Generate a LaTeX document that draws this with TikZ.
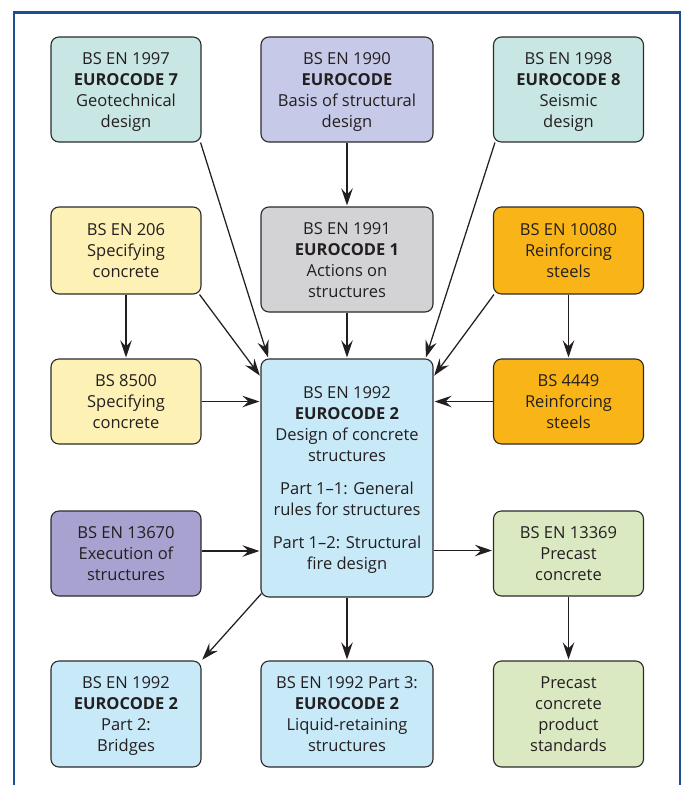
\documentclass[tikz,border=0pt]{standalone}
\usepackage{fontspec}
\setmainfont{Open Sans}
\usetikzlibrary{arrows.meta}
\definecolor{txt}{HTML}{231F20}
\definecolor{boxline}{HTML}{2B2B2B}
\definecolor{framec}{HTML}{1C4F91}
\definecolor{cteal}{HTML}{C8E6E3}
\definecolor{clav}{HTML}{C6C9E7}
\definecolor{cyel}{HTML}{FEF1B6}
\definecolor{cgray}{HTML}{D3D3D5}
\definecolor{corange}{HTML}{F9B517}
\definecolor{cblue}{HTML}{C7E9F8}
\definecolor{cpurp}{HTML}{A8A2D0}
\definecolor{cgreen}{HTML}{DBE9C2}
\newcommand\topstrut{\rule{0pt}{17pt}}
\newcommand\botstrut{\rule[-5pt]{0pt}{5pt}}
\begin{document}
\begin{tikzpicture}[x=1pt,y=-1pt,
  box/.style={draw=boxline, line width=1.1pt, rounded corners=8pt, inner sep=0pt,
    align=center, text=txt, font=\fontsize{16.5}{21}\selectfont},
  narrowbox/.style={box, minimum width=150pt},
  widebox/.style={box, minimum width=172pt},
  arr/.style={draw=txt, line width=1.25pt, -{Stealth[length=17pt,width=11.5pt,inset=6pt]}, shorten >=1pt},
  frameline/.style={draw=framec, line width=2.6pt}
]
\useasboundingbox (0,0) rectangle (686,785);
\fill[white] (0,0) rectangle (686,785);
\draw[frameline] (14,786) -- (14,12.5) -- (680,12.5) -- (680,786);

% row 1
\node[narrowbox, fill=cteal, minimum height=105pt] (ec7) at (126,89.5)
  {\topstrut BS EN 1997\\\textbf{EUROCODE 7}\\Geotechnical\\design\botstrut};
\node[widebox, fill=clav, minimum height=105pt] (ec0) at (347,89.5)
  {\topstrut BS EN 1990\\\textbf{EUROCODE}\\Basis of structural\\design\botstrut};
\node[narrowbox, fill=cteal, minimum height=105pt] (ec8) at (568.5,89.5)
  {\topstrut BS EN 1998\\\textbf{EUROCODE 8}\\Seismic\\design\botstrut};
% row 2
\node[narrowbox, fill=cyel, minimum height=87pt] (en206) at (126,250.5)
  {\topstrut BS EN 206\\Specifying\\concrete\botstrut};
\node[widebox, fill=cgray, minimum height=105pt] (ec1) at (347,259.5)
  {\topstrut BS EN 1991\\\textbf{EUROCODE 1}\\Actions on\\structures\botstrut};
\node[narrowbox, fill=corange, minimum height=87pt] (en10080) at (568.5,250.5)
  {\topstrut BS EN 10080\\Reinforcing\\steels\botstrut};
% row 3
\node[narrowbox, fill=cyel, minimum height=85pt] (bs8500) at (126,401.5)
  {\topstrut BS 8500\\Specifying\\concrete\botstrut};
\node[widebox, fill=cblue, minimum height=238pt] (ec2) at (347,478)
  {\topstrut BS EN 1992\\\textbf{EUROCODE 2}\\Design of concrete\\structures\\[12pt]
   Part 1–1: General\\rules for structures\\[12pt]Part 1–2: Structural\\fire design\botstrut};
\node[narrowbox, fill=corange, minimum height=85pt] (bs4449) at (568.5,401.5)
  {\topstrut BS 4449\\Reinforcing\\steels\botstrut};
% row 4
\node[narrowbox, fill=cpurp, minimum height=85pt] (en13670) at (126,553.5)
  {\topstrut BS EN 13670\\Execution of\\structures\botstrut};
\node[narrowbox, fill=cgreen, minimum height=85pt] (en13369) at (568.5,553.5)
  {\topstrut BS EN 13369\\Precast\\concrete\botstrut};
% row 5
\node[narrowbox, fill=cblue, minimum height=106pt] (p2) at (126,714)
  {\topstrut BS EN 1992\\\textbf{EUROCODE 2}\\Part 2:\\Bridges\botstrut};
\node[widebox, fill=cblue, minimum height=106pt] (p3) at (347,714)
  {\topstrut BS EN 1992 Part 3:\\\textbf{EUROCODE 2}\\Liquid-retaining\\structures\botstrut};
\node[narrowbox, fill=cgreen, minimum height=106pt] (pcs) at (568.5,714)
  {\topstrut Precast\\concrete\\product\\standards\botstrut};

% connectors
\draw[arr] (ec0.south) -- (ec1.north);
\draw[arr] (ec1.south) -- (ec2.north);
\draw[arr] (en206.south) -- (bs8500.north);
\draw[arr] (en10080.south) -- (bs4449.north);
\draw[arr] ([xshift=-1pt]ec7.south east) -- ([xshift=8pt]ec2.north west);
\draw[arr] ([xshift=-2pt]en206.south east) -- ([yshift=-18pt]ec2.north west);
\draw[arr] ([xshift=2pt]ec8.south west) -- ([xshift=-8pt]ec2.north east);
\draw[arr] ([xshift=1pt]en10080.south west) -- ([yshift=-18pt]ec2.north east);
\draw[arr] (bs8500.east) -- (bs8500.east -| ec2.west);
\draw[arr] (bs4449.west) -- (bs4449.west -| ec2.east);
\draw[arr] ([yshift=2.5pt]en13670.east) -- ([yshift=2.5pt]en13670.east -| ec2.west);
\draw[arr] ([yshift=3pt]en13369.west -| ec2.east) -- ([yshift=3pt]en13369.west);
\draw[arr] (ec2.south) -- (p3.north);
\draw[arr] (en13369.south) -- (pcs.north);
\draw[arr] ([xshift=1pt,yshift=4pt]ec2.south west) -- (p2.north east);
\end{tikzpicture}
\end{document}
